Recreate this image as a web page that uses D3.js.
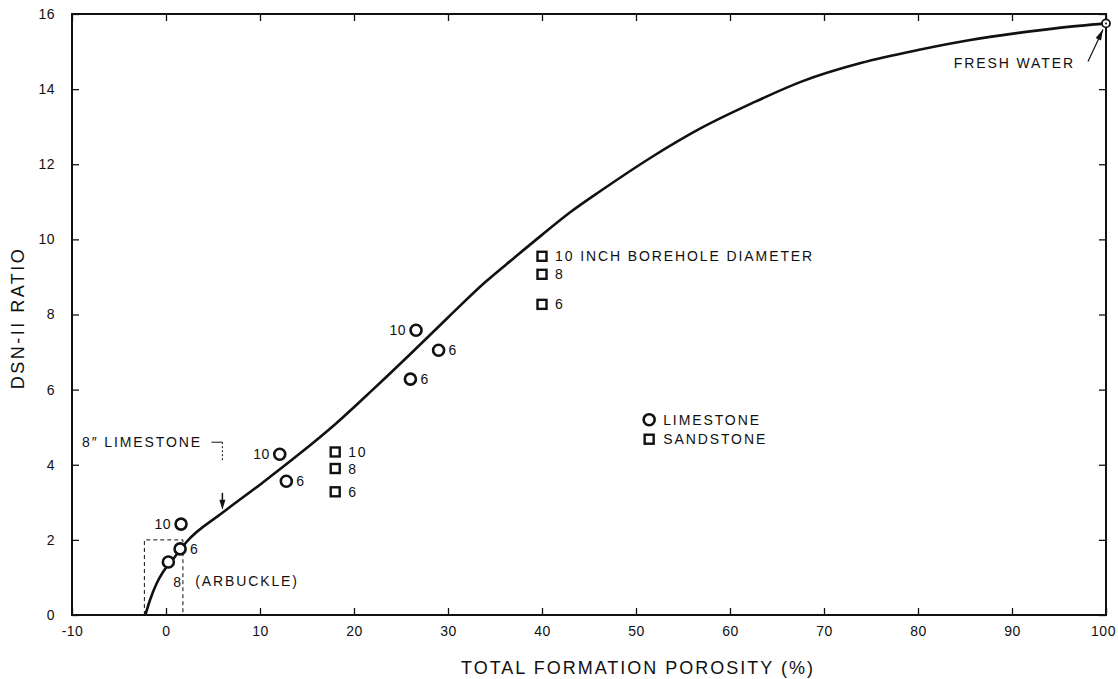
<!DOCTYPE html>
<html>
<head>
<meta charset="utf-8">
<script src="https://cdn.jsdelivr.net/npm/d3@7"></script>
<style>
  html, body { margin: 0; padding: 0; background: #fff; }
  svg { display: block; font-family: "Liberation Sans", Arial, Helvetica, sans-serif; }
</style>
</head>
<body>
<svg id="chart" width="1118" height="679"></svg>
<script>
// ---------- data ----------
const xTicks = [-10, 0, 10, 20, 30, 40, 50, 60, 70, 80, 90, 100];
const yTicks = [0, 2, 4, 6, 8, 10, 12, 14, 16];

const curveX = [-2.2, -1.7, -1.0, -0.3, 0.8, 2.2, 6.0, 10.0, 14.0, 18.0, 22.0, 26.0, 30.0, 34.0, 37.0, 40.0, 43.0, 46.3, 51.6, 56.9, 62.3, 67.6, 74.0, 80.0, 85.4, 90.5, 95.0, 100];
const curveY = [0, 0.4, 0.84, 1.15, 1.5, 1.95, 2.72, 3.47, 4.25, 5.08, 6.0, 6.95, 7.92, 8.87, 9.5, 10.12, 10.72, 11.3, 12.18, 12.96, 13.62, 14.2, 14.7, 15.04, 15.3, 15.49, 15.63, 15.75];

const limestoneX = [0.25, 1.5, 1.6, 12.1, 12.8, 26.6, 29.0, 26.0];
const limestoneY = [1.41, 1.76, 2.42, 4.28, 3.56, 7.58, 7.05, 6.28];
const limestoneLabel = ["8", "6", "10", "10", "6", "10", "6", "6"];
const limestoneLabelSide = ["below", "right", "left", "left", "right", "left", "right", "right"];

const sandstoneX = [18.0, 18.0, 18.0, 40.0, 40.0, 40.0];
const sandstoneY = [4.34, 3.90, 3.28, 9.55, 9.07, 8.27];
const sandstoneLabel = ["10", "8", "6", "10 INCH BOREHOLE DIAMETER", "8", "6"];

const freshWater = [100, 15.75];
const limestoneArrowX = 6.0;
const arbuckleBox = [-2.3, 1.8, 0, 2];

// ---------- layout ----------
const svg = d3.select("#chart");
const x = d3.scaleLinear().domain([-10, 100]).range([72, 1106]);
const y = d3.scaleLinear().domain([0, 16]).range([615, 14]);
const ink = "#111";

// frame
svg.append("rect")
  .attr("x", x(-10)).attr("y", y(16))
  .attr("width", x(100) - x(-10)).attr("height", y(0) - y(16))
  .attr("fill", "none").attr("stroke", ink).attr("stroke-width", 2);

// axes with inward ticks
const fmt = d => String(d);
const gB = svg.append("g").attr("transform", `translate(0,${y(0)})`)
  .call(d3.axisBottom(x).tickValues(xTicks).tickSize(-7).tickPadding(11).tickFormat(fmt));
const gT = svg.append("g").attr("transform", `translate(0,${y(16)})`)
  .call(d3.axisTop(x).tickValues(xTicks).tickSize(-7).tickFormat(""));
const gL = svg.append("g").attr("transform", `translate(${x(-10)},0)`)
  .call(d3.axisLeft(y).tickValues(yTicks).tickSize(-7).tickPadding(17).tickFormat(fmt));
const gR = svg.append("g").attr("transform", `translate(${x(100)},0)`)
  .call(d3.axisRight(y).tickValues(yTicks).tickSize(-7).tickFormat(""));
[gB, gT, gL, gR].forEach(g => {
  g.select(".domain").remove();
  g.selectAll(".tick line").attr("stroke", ink).attr("stroke-width", 1.3);
  g.selectAll("text").attr("fill", ink).style("font-size", "14px")
    .style("font-family", "'Liberation Sans', Arial, sans-serif").style("letter-spacing", "0.5px");
});
// keep the last bottom label inside the page
gB.selectAll(".tick").filter(d => d === 100).select("text").attr("dx", "-3");

// axis titles
svg.append("text")
  .attr("x", 638).attr("y", 674)
  .attr("text-anchor", "middle")
  .style("font-size", "18px").style("letter-spacing", "2px")
  .attr("fill", ink)
  .text("TOTAL FORMATION POROSITY (%)");
svg.append("text")
  .attr("transform", "translate(24,318) rotate(-90)")
  .attr("text-anchor", "middle")
  .style("font-size", "18px").style("letter-spacing", "2.5px")
  .attr("fill", ink)
  .text("DSN-II RATIO");

// dashed Arbuckle box
svg.append("path")
  .attr("d", `M${x(arbuckleBox[0])},${y(arbuckleBox[2])}V${y(arbuckleBox[3])}H${x(arbuckleBox[1])}V${y(arbuckleBox[2])}`)
  .attr("fill", "none").attr("stroke", ink).attr("stroke-width", 1)
  .attr("stroke-dasharray", "4,3");

// main curve
const curvePts = curveX.map((d, i) => [d, curveY[i]]);
svg.append("path")
  .datum(curvePts)
  .attr("d", d3.line().x(d => x(d[0])).y(d => y(d[1])).curve(d3.curveMonotoneX))
  .attr("fill", "none").attr("stroke", ink).attr("stroke-width", 2.6);

// limestone circles
const lime = limestoneX.map((d, i) => ({ x: d, y: limestoneY[i], label: limestoneLabel[i], side: limestoneLabelSide[i] }));
svg.append("g").selectAll("circle").data(lime).join("circle")
  .attr("cx", d => x(d.x)).attr("cy", d => y(d.y)).attr("r", 5.5)
  .attr("fill", "#fff").attr("stroke", ink).attr("stroke-width", 2.6);
svg.append("g").selectAll("text").data(lime).join("text")
  .attr("x", d => d.side === "left" ? x(d.x) - 10 : d.side === "right" ? x(d.x) + 10 : x(d.x) + 5)
  .attr("y", d => d.side === "below" ? y(d.y) + 20 : y(d.y))
  .attr("dy", "0.36em")
  .attr("text-anchor", d => d.side === "left" ? "end" : "start")
  .style("font-size", "14px").style("letter-spacing", "0.5px")
  .attr("fill", ink)
  .text(d => d.label);

// sandstone squares
const sand = sandstoneX.map((d, i) => ({ x: d, y: sandstoneY[i], label: sandstoneLabel[i] }));
svg.append("g").selectAll("rect").data(sand).join("rect")
  .attr("x", d => x(d.x) - 4.5).attr("y", d => y(d.y) - 4.5)
  .attr("width", 9).attr("height", 9)
  .attr("fill", "#fff").attr("stroke", ink).attr("stroke-width", 2.4);
svg.append("g").selectAll("text").data(sand).join("text")
  .attr("x", d => x(d.x) + 13).attr("y", d => y(d.y))
  .attr("dy", "0.36em")
  .style("font-size", "14px").style("letter-spacing", "1.9px")
  .attr("fill", ink)
  .text(d => d.label);

// legend
const legX = x(51.4);
svg.append("circle").attr("cx", legX).attr("cy", y(5.2)).attr("r", 5.5)
  .attr("fill", "#fff").attr("stroke", ink).attr("stroke-width", 2.6);
svg.append("rect").attr("x", legX - 4.5).attr("y", y(4.68) - 4.5).attr("width", 9).attr("height", 9)
  .attr("fill", "#fff").attr("stroke", ink).attr("stroke-width", 2.4);
svg.append("text").attr("x", legX + 14).attr("y", y(5.2)).attr("dy", "0.36em")
  .style("font-size", "14px").style("letter-spacing", "1.9px").attr("fill", ink).text("LIMESTONE");
svg.append("text").attr("x", legX + 14).attr("y", y(4.68)).attr("dy", "0.36em")
  .style("font-size", "14px").style("letter-spacing", "1.9px").attr("fill", ink).text("SANDSTONE");

// (ARBUCKLE)
svg.append("text").attr("x", x(3.1)).attr("y", y(0.9)).attr("dy", "0.36em")
  .style("font-size", "14px").style("letter-spacing", "1.9px").attr("fill", ink).text("(ARBUCKLE)");

// 8" limestone annotation
const ax = x(limestoneArrowX);
const tipY = y(2.72) - 3;
svg.append("text").attr("x", 82).attr("y", y(4.6)).attr("dy", "0.36em")
  .style("font-size", "14px").style("letter-spacing", "1.9px").attr("fill", ink).text("8\u2033 LIMESTONE");
svg.append("path").attr("d", `M${ax - 11},${y(4.6)}H${ax}`)
  .attr("stroke", ink).attr("stroke-width", 1).attr("fill", "none");
svg.append("path").attr("d", `M${ax},${y(4.6)}V${y(4.6) + 20}`)
  .attr("stroke", ink).attr("stroke-width", 1).attr("stroke-dasharray", "2,2").attr("fill", "none");
svg.append("path").attr("d", `M${ax},${tipY - 17}V${tipY - 8}`)
  .attr("stroke", ink).attr("stroke-width", 1.5);
svg.append("path").attr("d", `M${ax - 3},${tipY - 10}L${ax + 3},${tipY - 10}L${ax},${tipY}Z`)
  .attr("fill", ink);

// fresh water marker + arrow
const fwx = x(freshWater[0]), fwy = y(freshWater[1]);
svg.append("circle").attr("cx", fwx).attr("cy", fwy).attr("r", 4)
  .attr("fill", "#fff").attr("stroke", ink).attr("stroke-width", 1.8);
svg.append("circle").attr("cx", fwx).attr("cy", fwy).attr("r", 1).attr("fill", ink);
const fa0 = [fwx - 18, fwy + 38], fa1 = [fwx - 3, fwy + 6];
svg.append("path").attr("d", `M${fa0[0]},${fa0[1]}L${fa1[0]},${fa1[1]}`)
  .attr("stroke", ink).attr("stroke-width", 1.2);
(function () {
  const ang = Math.atan2(fa1[1] - fa0[1], fa1[0] - fa0[0]);
  const L = 11, W = 3;
  const bx = fa1[0] - L * Math.cos(ang), by = fa1[1] - L * Math.sin(ang);
  const px = -Math.sin(ang) * W, py = Math.cos(ang) * W;
  svg.append("path").attr("d", `M${fa1[0]},${fa1[1]}L${bx + px},${by + py}L${bx - px},${by - py}Z`).attr("fill", ink);
})();
svg.append("text").attr("x", fwx - 31).attr("y", fwy + 40).attr("dy", "0.36em")
  .attr("text-anchor", "end")
  .style("font-size", "14px").style("letter-spacing", "1.9px").attr("fill", ink).text("FRESH WATER");
</script>
</body>
</html>
